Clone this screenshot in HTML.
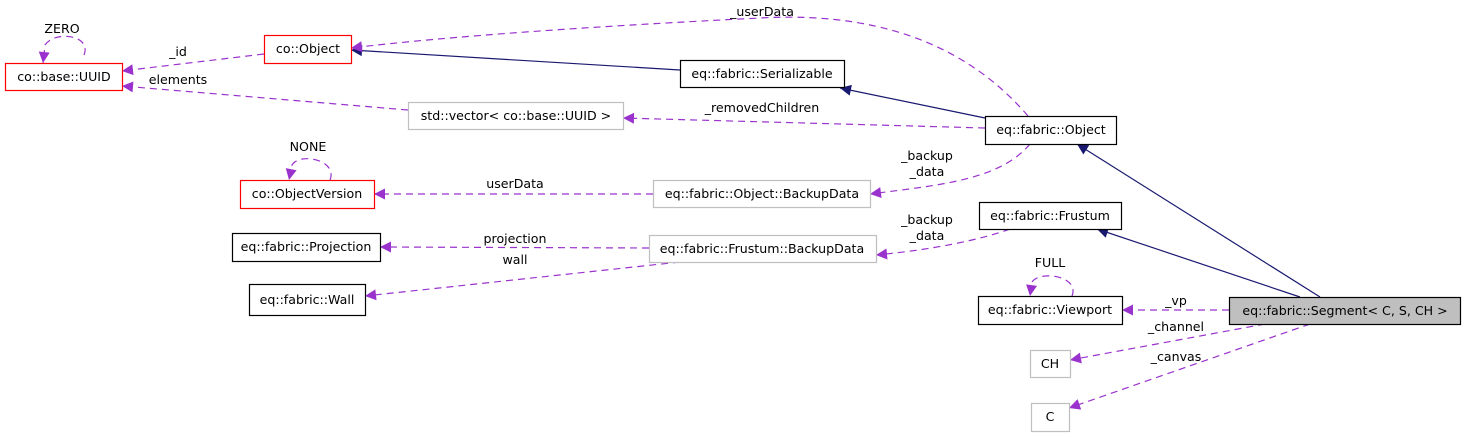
<!DOCTYPE html>
<html><head><meta charset="utf-8"><style>
html,body{margin:0;padding:0;background:#fff;}
svg{display:block;font-family:"DejaVu Sans","Liberation Sans",sans-serif;font-size:12.6px;}
</style></head><body>
<svg width="1467" height="437" viewBox="0 0 1467 437" xmlns="http://www.w3.org/2000/svg">
<defs>
<marker id="p" viewBox="0 0 10 10" refX="10" refY="5" markerWidth="13" markerHeight="11" markerUnits="userSpaceOnUse" orient="auto"><path d="M0,0 L10,5 L0,10z" fill="#9a32cd"/></marker>
<marker id="n" viewBox="0 0 10 10" refX="10" refY="5" markerWidth="13" markerHeight="11" markerUnits="userSpaceOnUse" orient="auto"><path d="M0,0 L10,5 L0,10z" fill="#191970"/></marker>
</defs>
<g fill="none" stroke="#191970" stroke-width="1.2">
<path d="M680,70 L351,50" marker-end="url(#n)"/>
<path d="M985,118 L840,88" marker-end="url(#n)"/>
<path d="M1320,297 L1077,144" marker-end="url(#n)"/>
<path d="M1300,297 L1097,229" marker-end="url(#n)"/>
</g>
<g fill="none" stroke="#9a32cd" stroke-width="1.2" stroke-dasharray="7,5">
<path d="M1028,116 C980,60 900,10 760,18 C600,26 450,36 351,48" marker-end="url(#p)"/>
<path d="M264,54 L122,71" marker-end="url(#p)"/>
<path d="M408,110 L122,86" marker-end="url(#p)"/>
<path d="M985,128 L623,118" marker-end="url(#p)"/>
<path d="M1030,144 C1000,180 940,185 870,194" marker-end="url(#p)"/>
<path d="M653,194 L374,194" marker-end="url(#p)"/>
<path d="M1010,229 C980,240 930,250 876,255" marker-end="url(#p)"/>
<path d="M649,248 L380,247" marker-end="url(#p)"/>
<path d="M680,262 L365,296" marker-end="url(#p)"/>
<path d="M1229,310 L1122,310" marker-end="url(#p)"/>
<path d="M1265,324 L1070,360" marker-end="url(#p)"/>
<path d="M1310,324 L1069,408" marker-end="url(#p)"/>
<path d="M84,55 C92,35 55,30 45,45 L43,63" marker-end="url(#p)"/>
<path d="M330,180 C338,160 300,152 292,165 L289,180" marker-end="url(#p)"/>
<path d="M1072,296 C1080,276 1040,270 1032,282 L1030,296" marker-end="url(#p)"/>
</g>
<g stroke-width="1.2">
<rect x="5.5" y="63.5" width="117" height="27" fill="#fff" stroke="#ff0000"/>
<rect x="264.5" y="35.5" width="87" height="28" fill="#fff" stroke="#ff0000"/>
<rect x="408.5" y="102.5" width="215" height="27" fill="#fff" stroke="#bfbfbf"/>
<rect x="680.5" y="60.5" width="164" height="27" fill="#fff" stroke="#000"/>
<rect x="985.5" y="116.5" width="131" height="28" fill="#fff" stroke="#000"/>
<rect x="240.5" y="180.5" width="134" height="28" fill="#fff" stroke="#ff0000"/>
<rect x="653.5" y="180.5" width="217" height="27" fill="#fff" stroke="#bfbfbf"/>
<rect x="979.5" y="202.5" width="142" height="27" fill="#fff" stroke="#000"/>
<rect x="232.5" y="233.5" width="148" height="28" fill="#fff" stroke="#000"/>
<rect x="649.5" y="235.5" width="227" height="27" fill="#fff" stroke="#bfbfbf"/>
<rect x="249.5" y="284.5" width="116" height="31" fill="#fff" stroke="#000"/>
<rect x="978.5" y="296.5" width="144" height="28" fill="#fff" stroke="#000"/>
<rect x="1229.5" y="297.5" width="231" height="27" fill="#bfbfbf" stroke="#000"/>
<rect x="1030.5" y="350.5" width="40" height="27" fill="#fff" stroke="#bfbfbf"/>
<rect x="1031.5" y="403.5" width="38" height="28" fill="#fff" stroke="#bfbfbf"/>
</g>
<g fill="#000" text-anchor="middle">
<text x="64" y="81">co::base::UUID</text>
<text x="308" y="53">co::Object</text>
<text x="516" y="120">std::vector&lt; co::base::UUID &gt;</text>
<text x="762" y="78">eq::fabric::Serializable</text>
<text x="1051" y="134">eq::fabric::Object</text>
<text x="307" y="198">co::ObjectVersion</text>
<text x="762" y="198">eq::fabric::Object::BackupData</text>
<text x="1050" y="220">eq::fabric::Frustum</text>
<text x="306" y="251">eq::fabric::Projection</text>
<text x="762" y="253">eq::fabric::Frustum::BackupData</text>
<text x="307" y="304">eq::fabric::Wall</text>
<text x="1050" y="314">eq::fabric::Viewport</text>
<text x="1345" y="315">eq::fabric::Segment&lt; C, S, CH &gt;</text>
<text x="1050" y="368">CH</text>
<text x="1050" y="421">C</text>
<text x="62" y="33">ZERO</text>
<text x="308" y="151">NONE</text>
<text x="1050" y="267">FULL</text>
<text x="762" y="16">_userData</text>
<text x="178" y="56">_id</text>
<text x="178" y="84">elements</text>
<text x="762" y="112">_removedChildren</text>
<text x="927" y="160">_backup</text>
<text x="927" y="176">_data</text>
<text x="515" y="188">userData</text>
<text x="927" y="224">_backup</text>
<text x="927" y="240">_data</text>
<text x="515" y="243">projection</text>
<text x="515" y="264">wall</text>
<text x="1176" y="305">_vp</text>
<text x="1176" y="331">_channel</text>
<text x="1176" y="361">_canvas</text>
</g>
</svg>
</body></html>
